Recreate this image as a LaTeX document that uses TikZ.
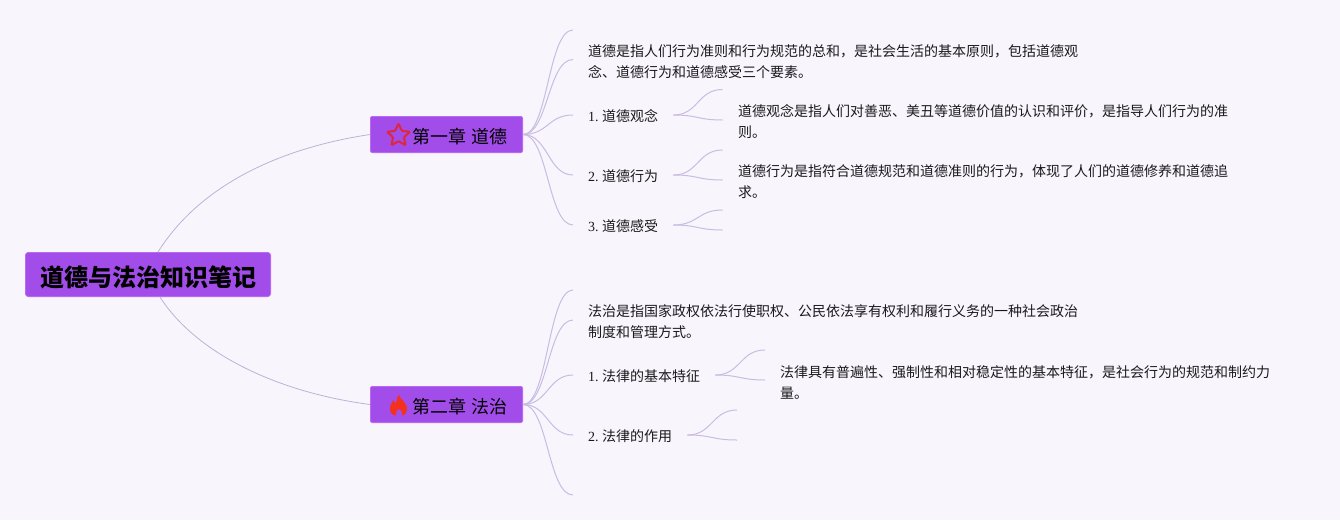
\documentclass[tikz,border=0pt]{standalone}
\usepackage{fontspec}
\setmainfont{Liberation Serif}
\newfontfamily\cjk{Noto Sans CJK SC}
\usetikzlibrary{shapes.geometric}
\definecolor{pagebg}{HTML}{F8F5FD}
\definecolor{boxfill}{HTML}{A24DEA}
\definecolor{boxline}{HTML}{B86AF2}
\definecolor{linkline}{HTML}{C9BCE2}
\definecolor{rootline}{HTML}{BDB2D6}
\definecolor{inkdark}{HTML}{1A1A1A}
\definecolor{iconred}{HTML}{E0263A}
\definecolor{flamered}{HTML}{F4301E}
\tikzset{
  chapbox/.style={draw=boxline,fill=boxfill,line width=0.8,rounded corners=2,minimum width=152.2,minimum height=36.2,inner sep=0,text=black},
  rootbox/.style={chapbox,minimum width=245.2,minimum height=44.2,rounded corners=3,text height=24,text depth=1},
  chaptext/.style={text=black,inner sep=0,font=\fontsize{18}{21}\selectfont\cjk},
  itembox/.style={anchor=west,inner xsep=15,inner ysep=2,text height=14.4,text depth=1.6,text=inkdark,font=\fontsize{14}{21}\selectfont\frenchspacing},
  notebox/.style={anchor=west,inner sep=0,align=left,text=inkdark,font=\fontsize{14}{21}\selectfont\cjk},
  link/.style={-,linkline,line width=1,to path={.. controls +(25,0) and +(-25,0) .. (\tikztotarget)}},
  rootlink/.style={-,rootline,line width=0.8}
}
\begin{document}
\begin{tikzpicture}[x=1pt,y=-1pt]
      \fill [pagebg] (0,0) rectangle (1340,520);
      \node [rootbox] (root) at (148,274.5) {\fontsize{24}{28}\selectfont\cjk\bfseries 道德与法治知识笔记};
      \node [chapbox] (chapA) at (446.5,134.5) {};
      \node [chapbox] (chapB) at (446.5,404.5) {};
      \node [chaptext] (chapAtext) at (460,136.5) {第一章 道德};
      \node [chaptext] (chapBtext) at (460,406.5) {第二章 法治};
      \node [star,star points=5,star point ratio=2.1,draw=iconred,line width=2,rounded corners=1,minimum size=24,inner sep=0] (starA) at (398.5,135.5) {};
      \fill [flamered] (399,394.5) .. controls (400,400) and (407,402) .. (407,409) .. controls (407,413) and (404,415.5) .. (402,415.5) .. controls (403,413) and (402,411) .. (399,409) .. controls (396,411) and (395,413) .. (396,415.5) .. controls (393,415.5) and (390,413) .. (390,409) .. controls (390,405) and (392,403) .. (393.5,400) .. controls (394.5,402) and (395,403) .. (396,403) .. controls (397,400) and (397,397) .. (399,394.5) -- cycle;
      \node [notebox] (noteA) at (588,62) {道德是指人们行为准则和行为规范的总和，是社会生活的基本原则，包括道德观\\念、道德行为和道德感受三个要素。};
      \node [itembox] (itemA) at (573,115) {1. {\cjk 道德观念}};
      \node [itembox] (itemB) at (573,175) {2. {\cjk 道德行为}};
      \node [itembox] (itemC) at (573,225) {3. {\cjk 道德感受}};
      \node [notebox] (noteB) at (738,122) {道德观念是指人们对善恶、美丑等道德价值的认识和评价，是指导人们行为的准\\则。};
      \node [notebox] (noteC) at (738,182) {道德行为是指符合道德规范和道德准则的行为，体现了人们的道德修养和道德追\\求。};
      \node [notebox] (noteD) at (588,322) {法治是指国家政权依法行使职权、公民依法享有权利和履行义务的一种社会政治\\制度和管理方式。};
      \node [itembox] (itemD) at (573,375) {1. {\cjk 法律的基本特征}};
      \node [itembox] (itemE) at (573,435) {2. {\cjk 法律的作用}};
      \node [notebox] (noteE) at (780,382) {法律具有普遍性、强制性和相对稳定性的基本特征，是社会行为的规范和制约力\\量。};
      \coordinate (endA) at (573,30);
      \coordinate (endB) at (573,59.5);
      \coordinate (endC) at (722.5,89.5);
      \coordinate (endD) at (722.5,120);
      \coordinate (endE) at (722.5,150);
      \coordinate (endF) at (722.5,180);
      \coordinate (endG) at (722.5,210);
      \coordinate (endH) at (722.5,230);
      \coordinate (endI) at (573,290);
      \coordinate (endJ) at (573,320);
      \coordinate (endK) at (573,495);
      \coordinate (endL) at (765,350);
      \coordinate (endM) at (765,380);
      \coordinate (endN) at (737,410);
      \coordinate (endO) at (737,440);
      \draw [rootlink] (root.north) ++(10,0) .. controls (200,185) and (280,148) .. (chapA.west);
      \draw [rootlink] (root.south) ++(12,0) .. controls (195,352) and (275,392) .. (chapB.west);
      \draw [link] (chapA.east) to (endA);
      \draw [link] (chapA.east) to (endB);
      \draw [link] (chapA.east) to (itemA.west);
      \draw [link] (chapA.east) to (itemB.west);
      \draw [link] (chapA.east) to (itemC.west);
      \draw [link] (itemA.east) to (endC);
      \draw [link] (itemA.east) to (endD);
      \draw [link] (itemB.east) to (endE);
      \draw [link] (itemB.east) to (endF);
      \draw [link] (itemC.east) to (endG);
      \draw [link] (itemC.east) to (endH);
      \draw [link] (chapB.east) to (endI);
      \draw [link] (chapB.east) to (endJ);
      \draw [link] (chapB.east) to (itemD.west);
      \draw [link] (chapB.east) to (itemE.west);
      \draw [link] (chapB.east) to (endK);
      \draw [link] (itemD.east) to (endL);
      \draw [link] (itemD.east) to (endM);
      \draw [link] (itemE.east) to (endN);
      \draw [link] (itemE.east) to (endO);
    \end{tikzpicture}
\end{document}
